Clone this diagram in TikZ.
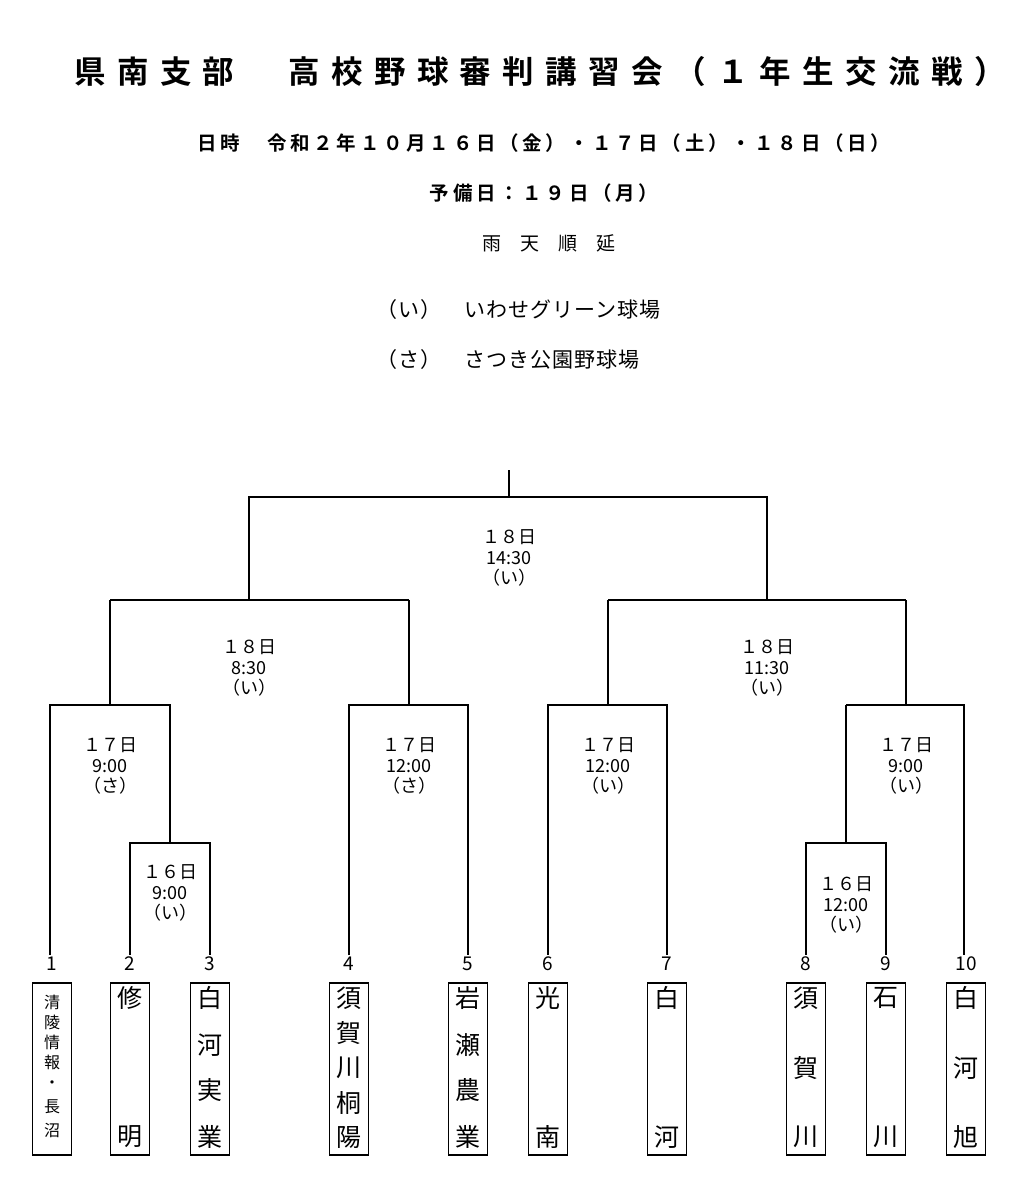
\documentclass[tikz,border=0pt]{standalone}
\usepackage{fontspec}
\setmainfont{Noto Sans CJK JP}
\newfontfamily\jpb[LetterSpace=19]{Noto Sans CJK JP Bold}
\newfontfamily\jpt[LetterSpace=36]{Noto Sans CJK JP Bold}
\newfontfamily\jp{Noto Sans CJK JP}
\newfontfamily\jps[LetterSpace=5]{Noto Sans CJK JP}
\begin{document}
\begin{tikzpicture}[x=1pt,y=-1pt,
  ln/.style={line width=1.5pt},
  lb/.style={font=\fontsize{18}{20.5}\selectfont\jp, inner sep=0pt, align=center},
  ch/.style={font=\fontsize{25}{25}\selectfont\jp, inner sep=0pt},
  sch/.style={font=\fontsize{16}{16}\selectfont\jp, inner sep=0pt},
  bx/.style={draw, line width=1.3pt, minimum width=39pt, minimum height=172pt, inner sep=0pt}]
\useasboundingbox (0,0) rectangle (1024,1200);
\node[inner sep=0pt] (title) at (540,72) {\fontsize{31.5}{31.5}\selectfont\jpt 県南支部　高校野球審判講習会（１年生交流戦）};
\node[inner sep=0pt] (date) at (544,143) {\fontsize{19.5}{19.5}\selectfont\jpb 日時　令和２年１０月１６日（金）・１７日（土）・１８日（日）};
\node[inner sep=0pt] (res) at (544,193) {\fontsize{19.5}{19.5}\selectfont\jpb 予備日：１９日（月）};
\node[inner sep=0pt,font=\fontsize{19}{19}\selectfont\jp] (rain) at (549,243) {雨　天　順　延};
\node[inner sep=0pt,font=\fontsize{21}{21}\selectfont\jps,anchor=west] (i) at (376,310) {（い）　いわせグリーン球場};
\node[inner sep=0pt,font=\fontsize{21}{21}\selectfont\jps,anchor=west] (s) at (376,360) {（さ）　さつき公園野球場};
% bracket coordinates
\coordinate (top) at (509,470);
\coordinate (r) at (509,497);
\coordinate (L) at (249,497); \coordinate (R) at (767,497);
\coordinate (La) at (249,600); \coordinate (Ra) at (767,600);
\coordinate (LL) at (110,600); \coordinate (LR) at (409,600);
\coordinate (RL) at (608,600); \coordinate (RR) at (906,600);
\draw[ln] (top)--(r);
\draw[ln] (La)--(L)--(R)--(Ra);
\draw[ln] (LL)--(LR); \draw[ln] (RL)--(RR);
\draw[ln] (50,955)--(50,705)--(110,705)--(LL);
\draw[ln] (110,705)--(170,705)--(170,843);
\draw[ln] (130,955)--(130,843)--(210,843)--(210,955);
\draw[ln] (349,955)--(349,705)--(468,705)--(468,955);
\draw[ln] (LR)--(409,705);
\draw[ln] (548,955)--(548,705)--(667,705)--(667,955);
\draw[ln] (RL)--(608,705);
\draw[ln] (RR)--(906,705);
\draw[ln] (846,705)--(964,705)--(964,955);
\draw[ln] (846,705)--(846,843);
\draw[ln] (806,955)--(806,843)--(886,843)--(886,955);
% labels
\node[lb] (g0) at (509,558) {１８日\\14:30\\（い）};
\node[lb] (g1) at (249,668) {１８日\\8:30\\（い）};
\node[lb] (g2) at (767,668) {１８日\\11:30\\（い）};
\node[lb] (g3) at (110,766) {１７日\\9:00\\（さ）};
\node[lb] (g4) at (170,893) {１６日\\9:00\\（い）};
\node[lb] (g5) at (409,766) {１７日\\12:00\\（さ）};
\node[lb] (g6) at (608,766) {１７日\\12:00\\（い）};
\node[lb] (g7) at (906,766) {１７日\\9:00\\（い）};
\node[lb] (g8) at (846,905) {１６日\\12:00\\（い）};
% numbers
\foreach \x/\n [count=\k] in {52/1,130/2,210/3,349/4,468/5,548/6,667/7,806/8,886/9,966/10}
  \node[font=\fontsize{19}{19}\selectfont\jp,inner sep=0pt] (n\k) at (\x,964) {\n};
% boxes
\foreach \x [count=\k] in {52,130,210,349,468,548,667,806,886,966}
  \node[bx] (b\k) at (\x,1069) {};
% box texts
\foreach \c/\y [count=\k] in {清/1002,陵/1022,情/1042,報/1062,・/1085,長/1107,沼/1130}
  \node[sch] (t1\k) at (52,\y) {\c};
\node[ch] (t21) at (130,998) {修}; \node[ch] (t22) at (130,1137) {明};
\foreach \c/\y [count=\k] in {白/998,河/1045,実/1090,業/1137}
  \node[ch] (t3\k) at (210,\y) {\c};
\foreach \c/\y [count=\k] in {須/998,賀/1033,川/1068,桐/1103,陽/1137}
  \node[ch] (t4\k) at (349,\y) {\c};
\foreach \c/\y [count=\k] in {岩/998,瀬/1045,農/1090,業/1137}
  \node[ch] (t5\k) at (468,\y) {\c};
\node[ch] (t61) at (548,998) {光}; \node[ch] (t62) at (548,1137) {南};
\node[ch] (t71) at (667,998) {白}; \node[ch] (t72) at (667,1137) {河};
\foreach \c/\y [count=\k] in {須/998,賀/1068,川/1137}
  \node[ch] (t8\k) at (806,\y) {\c};
\node[ch] (t91) at (886,998) {石}; \node[ch] (t92) at (886,1137) {川};
\foreach \c/\y [count=\k] in {白/998,河/1068,旭/1137}
  \node[ch] (t10\k) at (966,\y) {\c};
\end{tikzpicture}
\end{document}
